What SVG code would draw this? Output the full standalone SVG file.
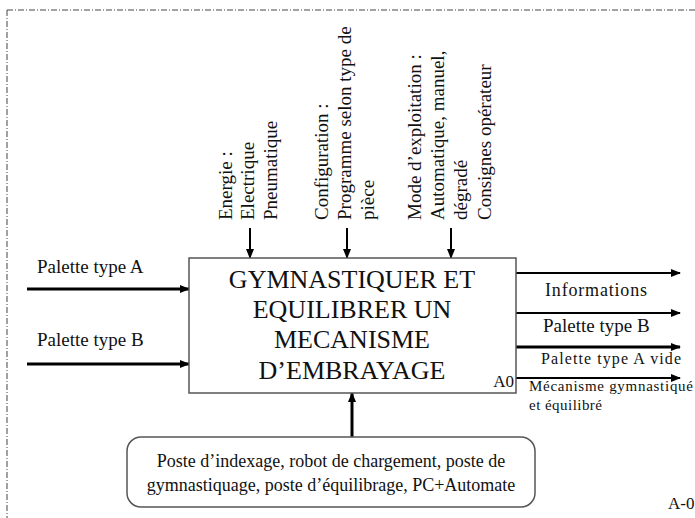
<svg xmlns="http://www.w3.org/2000/svg" width="695" height="518" viewBox="0 0 695 518">
<defs>
<marker id="ah" markerWidth="10" markerHeight="8" refX="9" refY="4" orient="auto" markerUnits="userSpaceOnUse">
<path d="M0,0 L10,4 L0,8 Z" fill="#000"/>
</marker>
<style>
text{font-family:"Liberation Serif","Times New Roman",serif;fill:#111}
.frame{fill:none;stroke:#444;stroke-width:1;stroke-dasharray:6 2 1 2}
.box{fill:#fff;stroke:#555;stroke-width:1.5}
.arr{stroke:#000;fill:none;marker-end:url(#ah)}
.v{font-size:19px}
.lbl{font-size:19px}
</style>
</defs>
<g id="frame">
<line class="frame" x1="7" y1="10" x2="695" y2="10"/>
<line class="frame" x1="7" y1="10" x2="7" y2="518"/>
</g>
<g id="connectors">
<line class="arr" x1="27" y1="289" x2="189" y2="289" stroke-width="3"/>
<line class="arr" x1="27" y1="364" x2="189" y2="364" stroke-width="3"/>
<line class="arr" x1="250" y1="228" x2="250" y2="258" stroke-width="2"/>
<line class="arr" x1="347" y1="228" x2="347" y2="258" stroke-width="2"/>
<line class="arr" x1="451" y1="228" x2="451" y2="258" stroke-width="2"/>
<line class="arr" x1="516" y1="273" x2="680" y2="273" stroke-width="2"/>
<line class="arr" x1="516" y1="313" x2="680" y2="313" stroke-width="2"/>
<line class="arr" x1="516" y1="347" x2="680" y2="347" stroke-width="3"/>
<line class="arr" x1="516" y1="378" x2="680" y2="378" stroke-width="2"/>
<line class="arr" x1="352" y1="437" x2="352" y2="393" stroke-width="3"/>
</g>
<g id="input-labels">
<text class="lbl" x="37" y="273">Palette type A</text>
<text class="lbl" x="37" y="346">Palette type B</text>
</g>
<g id="controls">
<g transform="translate(232,220) rotate(-90)"><text class="v">Energie :</text></g>
<g transform="translate(254,220) rotate(-90)"><text class="v">Electrique</text></g>
<g transform="translate(277,220) rotate(-90)"><text class="v">Pneumatique</text></g>
<g transform="translate(328,220) rotate(-90)"><text class="v">Configuration :</text></g>
<g transform="translate(351,220) rotate(-90)"><text class="v">Programme selon type de</text></g>
<g transform="translate(374,220) rotate(-90)"><text class="v">pièce</text></g>
<g transform="translate(421,220) rotate(-90)"><text class="v">Mode d’exploitation :</text></g>
<g transform="translate(444,220) rotate(-90)"><text class="v">Automatique, manuel,</text></g>
<g transform="translate(467,220) rotate(-90)"><text class="v">dégradé</text></g>
<g transform="translate(491,220) rotate(-90)"><text class="v">Consignes opérateur</text></g>
</g>
<g id="A0">
<rect class="box" x="189" y="258" width="327" height="135"/>
<text x="352" y="288" font-size="26" text-anchor="middle">GYMNASTIQUER ET</text>
<text x="352" y="318" font-size="26" text-anchor="middle">EQUILIBRER UN</text>
<text x="352" y="348" font-size="26" text-anchor="middle">MECANISME</text>
<text x="352" y="379" font-size="26" text-anchor="middle">D’EMBRAYAGE</text>
<text x="514" y="387" font-size="17" text-anchor="end">A0</text>
</g>
<g id="output-labels">
<text x="545" y="296" font-size="18" textLength="102">Informations</text>
<text class="lbl" x="543" y="332">Palette type B</text>
<text x="541" y="364" font-size="16" textLength="140">Palette type A vide</text>
<text x="529" y="391" font-size="15" textLength="164">Mécanisme gymnastiqué</text>
<text x="529" y="410" font-size="15" textLength="73">et équilibré</text>
</g>
<g id="mechanism">
<rect class="box" x="127" y="437" width="408" height="70" rx="14" ry="14"/>
<text x="331" y="467" font-size="18" text-anchor="middle">Poste d’indexage, robot de chargement, poste de</text>
<text x="331" y="491" font-size="18" text-anchor="middle">gymnastiquage, poste d’équilibrage, PC+Automate</text>
</g>
<g id="label-A-0">
<text x="668" y="509" font-size="17">A-0</text>
</g>
</svg>
